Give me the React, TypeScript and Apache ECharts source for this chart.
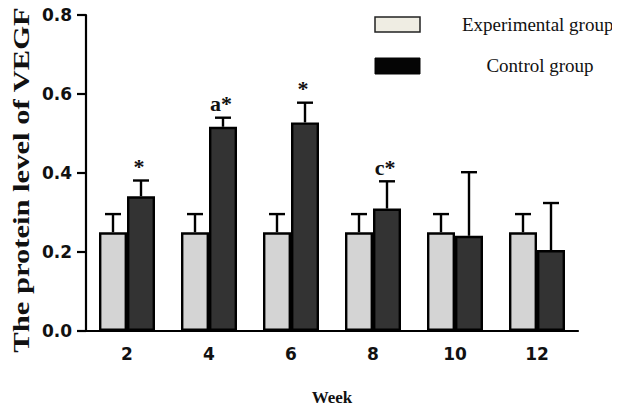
import React, { useEffect, useRef } from "react";
import * as echarts from "echarts";

// Weeks after treatment
const weeks = ["2", "4", "6", "8", "10", "12"];
// Mean VEGF protein level and upper error limit (mean + SD)
const experimentalMean = [0.25, 0.25, 0.25, 0.25, 0.25, 0.25];
const experimentalUpper = [0.296, 0.296, 0.296, 0.296, 0.296, 0.296];
const controlMean = [0.341, 0.517, 0.528, 0.31, 0.241, 0.205];
const controlUpper = [0.381, 0.54, 0.578, 0.379, 0.402, 0.324];
// Significance marks above the control bars
const controlMarks = ["*", "a*", "*", "c*", "", ""];

const yTicks = { min: 0, max: 0.8, interval: 0.2 };

const BAR_W = 28;
const serif = "'Liberation Serif', 'Times New Roman', serif";
const sans = "'DejaVu Sans', sans-serif";

function errorSeries(name: string, mean: number[], upper: number[], offset: number, marks?: string[]) {
  return {
    type: "custom",
    name,
    z: 5,
    data: mean.map((m, i) => [i, m, upper[i]]),
    renderItem: (params: any, api: any) => {
      const idx = api.value(0);
      const base = api.coord([idx, api.value(1)]);
      const top = api.coord([idx, api.value(2)]);
      const x = base[0] + offset;
      const children: any[] = [
        {
          type: "line",
          shape: { x1: x, y1: base[1], x2: x, y2: top[1] },
          style: { stroke: "#000", lineWidth: 2.4 },
        },
        {
          type: "line",
          shape: { x1: x - 8, y1: top[1], x2: x + 8, y2: top[1] },
          style: { stroke: "#000", lineWidth: 2.4 },
        },
      ];
      const mark = marks ? marks[params.dataIndex] : "";
      if (mark) {
        children.push({
          type: "text",
          x: x - 2,
          y: top[1] - 3,
          style: {
            text: mark,
            font: `bold 22px ${serif}`,
            fill: "#111",
            align: "center",
            verticalAlign: "bottom",
          },
        });
      }
      return { type: "group", children };
    },
  };
}

export default function App() {
  const ref = useRef<HTMLDivElement>(null);

  useEffect(() => {
    if (!ref.current) return;
    const chart = echarts.init(ref.current, null, { renderer: "svg" });
    chart.setOption({
      animation: false,
      backgroundColor: "#fff",
      grid: { left: 86, width: 492, top: 15, height: 328 },
      xAxis: {
        type: "category",
        data: weeks,
        name: "Week",
        nameLocation: "middle",
        nameGap: 58,
        nameTextStyle: { fontFamily: serif, fontWeight: "bold", fontSize: 17, color: "#111" },
        axisLine: { lineStyle: { color: "#000", width: 2.2 } },
        axisTick: { alignWithLabel: true, length: 9, lineStyle: { color: "#000", width: 2.2 } },
        axisLabel: { margin: 14, fontFamily: sans, fontWeight: "bold", fontSize: 17, color: "#111" },
      },
      yAxis: {
        type: "value",
        min: yTicks.min,
        max: yTicks.max,
        interval: yTicks.interval,
        splitLine: { show: false },
        axisLine: { show: true, lineStyle: { color: "#000", width: 2.2 } },
        axisTick: { show: true, length: 9, lineStyle: { color: "#000", width: 2.2 } },
        axisLabel: {
          margin: 14,
          fontFamily: sans,
          fontWeight: "bold",
          fontSize: 17,
          color: "#111",
          formatter: (v: number) => v.toFixed(1),
        },
      },
      series: [
        {
          type: "bar",
          name: "Experimental group",
          data: experimentalMean,
          barWidth: BAR_W,
          barGap: "0%",
          itemStyle: { color: "#d4d4d4", borderColor: "#000", borderWidth: 2.4 },
        },
        {
          type: "bar",
          name: "Control group",
          data: controlMean,
          barWidth: BAR_W,
          barGap: "0%",
          itemStyle: { color: "#333333", borderColor: "#000", borderWidth: 2.4 },
        },
        errorSeries("Experimental error", experimentalMean, experimentalUpper, -BAR_W / 2),
        errorSeries("Control error", controlMean, controlUpper, BAR_W / 2, controlMarks),
      ],
      graphic: [
        {
          type: "text",
          x: 21,
          y: 180,
          rotation: Math.PI / 2,
          scaleX: 1.33,
          style: {
            text: "The protein level of VEGF",
            font: `bold 23px ${serif}`,
            fill: "#111",
            align: "center",
            verticalAlign: "middle",
          },
        },
        {
          type: "rect",
          shape: { x: 375, y: 17, width: 45, height: 15 },
          style: { fill: "#efede3", stroke: "#222", lineWidth: 1.5 },
        },
        {
          type: "rect",
          shape: { x: 375, y: 58, width: 45, height: 16 },
          style: { fill: "#050505", stroke: "#050505", lineWidth: 1 },
        },
        {
          type: "text",
          x: 462,
          y: 24,
          style: {
            text: "Experimental group",
            font: `19px ${serif}`,
            fill: "#111",
            align: "left",
            verticalAlign: "middle",
          },
        },
        {
          type: "text",
          x: 540,
          y: 65,
          style: {
            text: "Control group",
            font: `19px ${serif}`,
            fill: "#111",
            align: "center",
            verticalAlign: "middle",
          },
        },
      ],
    });
    return () => chart.dispose();
  }, []);

  return <div ref={ref} style={{ width: 620, height: 411, margin: -8 }} />;
}
